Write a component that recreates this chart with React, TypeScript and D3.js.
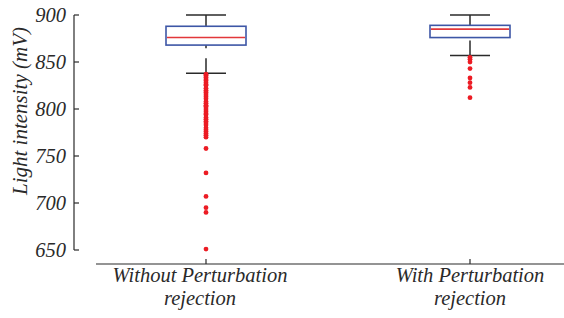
import React, { useEffect, useRef } from 'react';
import * as d3 from 'd3';

// categories and box statistics (mV)
const categories = ['Without Perturbation rejection', 'With Perturbation rejection'];
const categoryLines = [['Without Perturbation', 'rejection'], ['With Perturbation', 'rejection']];
const medians = [876, 885];
const lowerQuartiles = [868, 876];
const upperQuartiles = [888, 889];
const lowerWhiskers = [838, 857];
const upperWhiskers = [900, 900];

// outliers
const outliersWithout = [
  837, 836, 834, 833, 831, 830, 828, 826, 825,
  822, 820, 818, 817, 815, 813, 811,
  808, 806,
  804, 803, 801, 799, 797, 795, 794,
  791, 789, 787, 785, 783,
  780, 778, 776, 774, 772, 770,
  758, 732, 707, 695, 690, 651,
];
const outliersWith = [855, 853, 850, 843, 833, 828, 823, 812];
const outliers = [outliersWithout, outliersWith];

const yTicks = [650, 700, 750, 800, 850, 900];

const App: React.FC = () => {
  const ref = useRef<SVGSVGElement>(null);

  useEffect(() => {
    const width = 564;
    const height = 318;
    const font = '"Liberation Serif", "Times New Roman", serif';
    const ink = '#2a2a2a';

    const svg = d3.select(ref.current).attr('width', width).attr('height', height);
    svg.selectAll('*').remove();

    const y = d3.scaleLinear().domain([650, 900]).range([250, 15]);
    const x = d3.scaleBand().domain(categories).range([74, 602]).padding(0);
    const cx = (c: string) => (x(c) || 0) + x.bandwidth() / 2;

    const boxW = 80;
    const capW = 40;

    // y axis
    const axisX = 74;
    svg.append('line')
      .attr('x1', axisX).attr('x2', axisX)
      .attr('y1', y(900)).attr('y2', y(650))
      .attr('stroke', ink).attr('stroke-width', 1.2);
    const yt = svg.append('g');
    yTicks.forEach((t) => {
      yt.append('line')
        .attr('x1', axisX).attr('x2', axisX + 5)
        .attr('y1', y(t)).attr('y2', y(t))
        .attr('stroke', ink).attr('stroke-width', 1.2);
      yt.append('text')
        .attr('x', axisX - 8).attr('y', y(t))
        .attr('dy', '0.35em')
        .attr('text-anchor', 'end')
        .style('font-family', font).style('font-style', 'italic').style('font-size', '20.5px')
        .attr('fill', ink)
        .text(t);
    });

    svg.append('text')
      .attr('transform', `translate(27,${111}) rotate(-90)`)
      .attr('text-anchor', 'middle')
      .style('font-family', font).style('font-style', 'italic').style('font-size', '21px')
      .attr('fill', ink)
      .text('Light intensity (mV)');

    // x axis
    const axisY = 264;
    svg.append('line')
      .attr('x1', 96).attr('x2', width)
      .attr('y1', axisY).attr('y2', axisY)
      .attr('stroke', ink).attr('stroke-width', 1.2);
    categories.forEach((c, i) => {
      svg.append('line')
        .attr('x1', cx(c)).attr('x2', cx(c))
        .attr('y1', axisY).attr('y2', axisY - 5)
        .attr('stroke', ink).attr('stroke-width', 1.2);
      categoryLines[i].forEach((line, j) => {
        svg.append('text')
          .attr('x', cx(c) - (i === 0 ? 6 : 0)).attr('y', 282 + j * 23)
          .attr('text-anchor', 'middle')
          .style('font-family', font).style('font-style', 'italic').style('font-size', '20.5px')
          .attr('fill', ink)
          .text(line);
      });
    });

    // boxes
    categories.forEach((c, i) => {
      const xc = cx(c);
      const g = svg.append('g');

      // whiskers (dashed, drawn from the whisker end towards the box)
      g.append('line')
        .attr('x1', xc).attr('x2', xc)
        .attr('y1', y(upperWhiskers[i])).attr('y2', y(upperQuartiles[i]))
        .attr('stroke', ink).attr('stroke-width', 1.5)
        .attr('stroke-dasharray', '15,10');
      g.append('line')
        .attr('x1', xc).attr('x2', xc)
        .attr('y1', y(lowerWhiskers[i])).attr('y2', y(lowerQuartiles[i]))
        .attr('stroke', ink).attr('stroke-width', 1.5)
        .attr('stroke-dasharray', '15,10');
      [upperWhiskers[i], lowerWhiskers[i]].forEach((w) => {
        g.append('line')
          .attr('x1', xc - capW / 2).attr('x2', xc + capW / 2)
          .attr('y1', y(w)).attr('y2', y(w))
          .attr('stroke', ink).attr('stroke-width', 1.5);
      });

      g.append('rect')
        .attr('x', xc - boxW / 2)
        .attr('y', y(upperQuartiles[i]))
        .attr('width', boxW)
        .attr('height', y(lowerQuartiles[i]) - y(upperQuartiles[i]))
        .attr('fill', 'none')
        .attr('stroke', '#3d56a6').attr('stroke-width', 1.6);
      g.append('line')
        .attr('x1', xc - boxW / 2 + 1).attr('x2', xc + boxW / 2 - 1)
        .attr('y1', y(medians[i])).attr('y2', y(medians[i]))
        .attr('stroke', '#e2373a').attr('stroke-width', 1.6);

      g.selectAll('circle.out')
        .data(outliers[i])
        .enter()
        .append('circle')
        .attr('cx', xc)
        .attr('cy', (d) => y(d))
        .attr('r', 2.4)
        .attr('fill', '#ec1c24');
    });
  }, []);

  return <svg ref={ref} style={{ position: 'absolute', left: 0, top: 0 }}></svg>;
};

export default App;
